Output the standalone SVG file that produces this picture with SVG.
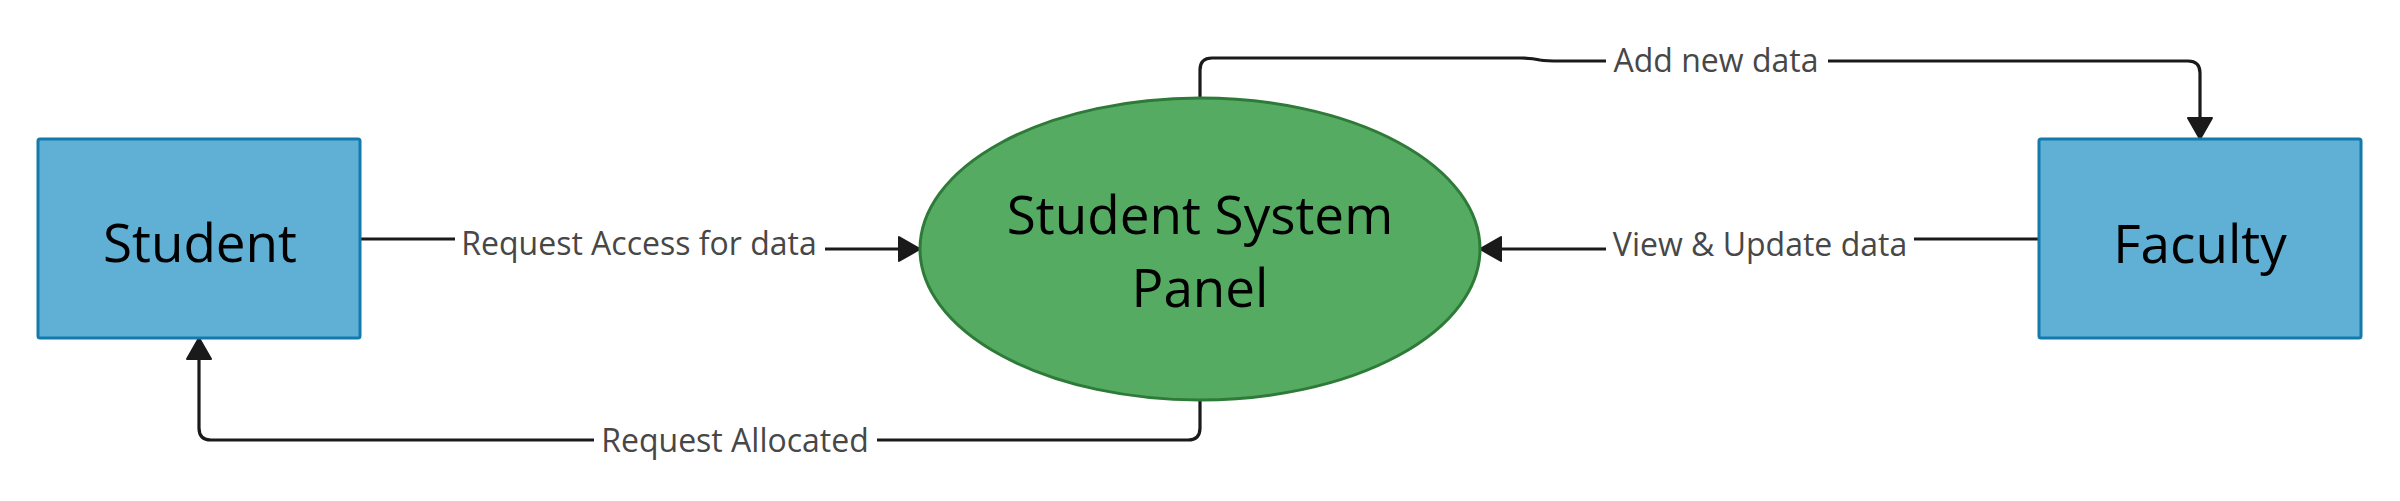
<svg xmlns="http://www.w3.org/2000/svg" width="2400" height="501" viewBox="0 0 2400 501">
<style>
.box{fill:#60b0d6;stroke:#137aab;stroke-width:3}
.proc{fill:#56ab62;stroke:#2e7a38;stroke-width:3}
.ntext{font-family:"Open Sans","Noto Sans",sans-serif;font-size:53px;font-weight:500;fill:#000;text-anchor:middle}
.conn{fill:none;stroke:#1a1a1a;stroke-width:3.2}
.lbg{fill:#fff}
.ltext{font-family:"Open Sans","Noto Sans",sans-serif;font-size:32px;fill:#474747;text-anchor:middle}
</style>
<defs>
<marker id="arr" markerUnits="userSpaceOnUse" markerWidth="30" markerHeight="30" viewBox="-24 -15 30 30" refX="0" refY="0" orient="auto">
<path d="M0,0 L-21,-12 L-21,12 Z" fill="#1a1a1a" stroke="#1a1a1a" stroke-width="2" stroke-linejoin="round"/>
</marker>
</defs>
<rect width="2400" height="501" fill="#fff"/>
<g id="connectors">
<path class="conn" d="M361,239 H639 V249 H920" marker-end="url(#arr)"/>
<path class="conn" d="M2039,239 H1760 V249 H1480" marker-end="url(#arr)"/>
<path class="conn" d="M1200,98 V70 Q1200,58 1212,58 H1520 Q1532,58 1540,60 Q1546,61 1560,61 H2188 Q2200,61 2200,73 V139" marker-end="url(#arr)"/>
<path class="conn" d="M1200,400 V428 Q1200,440 1188,440 H211 Q199,440 199,428 V338" marker-end="url(#arr)"/>
<g id="label-request-access">
<rect class="lbg" x="455" y="226" width="370" height="36"/>
<text class="ltext" x="639" y="255">Request Access for data</text>
</g>
<g id="label-view-update">
<rect class="lbg" x="1606" y="227" width="308" height="36"/>
<text class="ltext" x="1760" y="256">View &amp; Update data</text>
</g>
<g id="label-add-new">
<rect class="lbg" x="1606" y="42" width="222" height="38"/>
<text class="ltext" x="1716" y="72">Add new data</text>
</g>
<g id="label-request-allocated">
<rect class="lbg" x="594" y="422" width="283" height="38"/>
<text class="ltext" x="735" y="452">Request Allocated</text>
</g>
</g>
<g id="student">
<rect class="box" x="38" y="139" width="322" height="199" rx="2"/>
<text class="ntext" x="200" y="262">Student</text>
</g>
<g id="student-system-panel">
<ellipse class="proc" cx="1200" cy="249" rx="280" ry="151"/>
<text class="ntext" x="1200" y="234">Student System</text>
<text class="ntext" x="1200" y="307">Panel</text>
</g>
<g id="faculty">
<rect class="box" x="2039" y="139" width="322" height="199" rx="2"/>
<text class="ntext" x="2200" y="263">Faculty</text>
</g>
</svg>
